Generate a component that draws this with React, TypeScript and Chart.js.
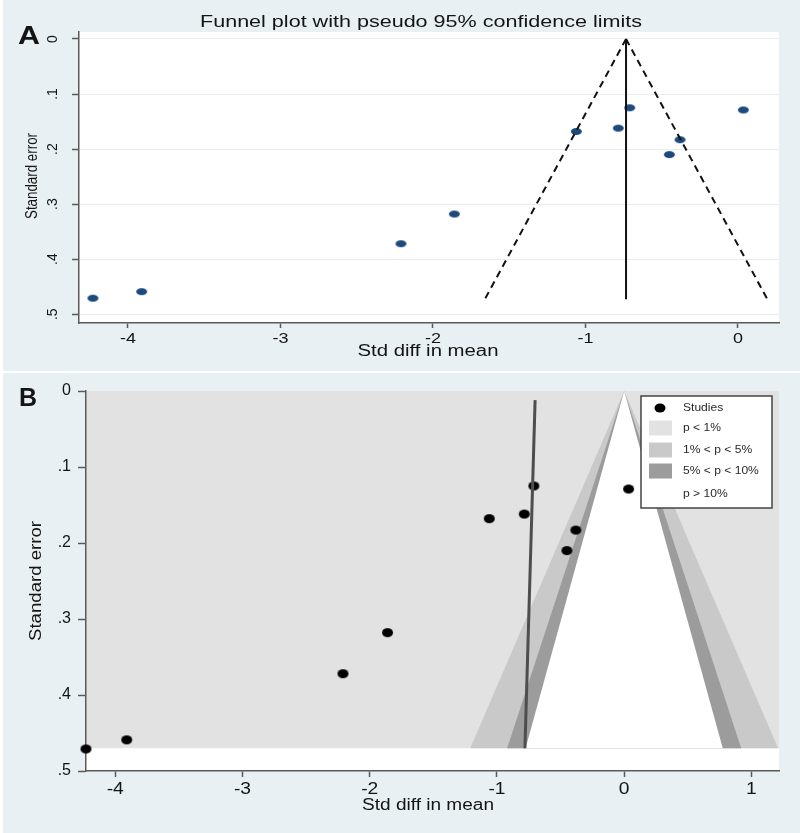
import React, { useEffect, useRef } from 'react';
import { Chart, registerables } from 'chart.js';
Chart.register(...registerables);

// ---- data ----
const studyEffect = [-4.23, -3.91, -2.21, -1.86, -1.06, -0.785, -0.71, -0.38, -0.45, 0.035];
const studySE = [0.471, 0.459, 0.372, 0.318, 0.168, 0.162, 0.125, 0.183, 0.21, 0.129];

const xTicksA = [-4, -3, -2, -1, 0];
const xTicksB = [-4, -3, -2, -1, 0, 1];
const yTicks = [0, 0.1, 0.2, 0.3, 0.4, 0.5];
const yTickLabels = ['0', '.1', '.2', '.3', '.4', '.5'];

// panel A: pseudo 95% limits
const pooledX = [-0.734, -0.734];
const limitSE = [0, 0.473];
const lowerLimitX = [-0.734, -1.66];
const upperLimitX = [-0.734, 0.193];

// panel B: contour-enhanced funnel
const trendX = [-0.7, -0.78];
const trendSE = [0.012, 0.47];
const contourSE = [0, 0.47];
const contour99HalfWidth = [0, 1.21];
const contour95HalfWidth = [0, 0.92];
const contour90HalfWidth = [0, 0.775];
const legendLabels = ['Studies', 'p < 1%', '1% < p < 5%', '5% < p < 10%', 'p > 10%'];

// ---- styles ----
const FONT = '"Liberation Sans", Arial, Helvetica, sans-serif';
const PANEL_BG = '#e9f0f3';
const TEXT = '#141414';
const AXIS = '#5a5a5a';
const C_P1 = '#e2e2e2';
const C_P5 = '#c9c9c9';
const C_P10 = '#9c9c9c';

type TxtOpts = { size: number; weight?: string; sx?: number; width?: number; align?: CanvasTextAlign; rotate?: boolean; color?: string };
function txt(ctx: CanvasRenderingContext2D, s: string, x: number, y: number, o: TxtOpts) {
  ctx.save();
  ctx.font = `${o.weight || 'normal'} ${o.size}px ${FONT}`;
  const m = ctx.measureText(s).width;
  const sx = o.width ? o.width / m : o.sx || 1;
  ctx.translate(x, y);
  if (o.rotate) ctx.rotate(-Math.PI / 2);
  ctx.scale(sx, 1);
  ctx.textBaseline = 'middle';
  ctx.textAlign = o.align || 'center';
  ctx.fillStyle = o.color || TEXT;
  ctx.fillText(s, 0, 0);
  ctx.restore();
}

function ellipseImg(w: number, h: number, color: string) {
  const c = document.createElement('canvas');
  c.width = w + 2;
  c.height = h + 2;
  const g = c.getContext('2d')!;
  g.fillStyle = color;
  g.beginPath();
  g.ellipse((w + 2) / 2, (h + 2) / 2, w / 2, h / 2, 0, 0, Math.PI * 2);
  g.fill();
  return c;
}

const pts = (xs: number[], ys: number[]) => xs.map((x, i) => ({ x, y: ys[i] }));

const panelAPlugin = {
  id: 'panelA',
  beforeDraw(chart: any) {
    const { ctx, chartArea: a } = chart;
    ctx.save();
    ctx.fillStyle = '#ffffff';
    ctx.fillRect(0, 0, chart.width, chart.height);
    ctx.fillStyle = PANEL_BG;
    ctx.fillRect(3, 0, chart.width - 3, chart.height - 1);
    ctx.fillStyle = '#ffffff';
    ctx.fillRect(a.left, a.top, a.right - a.left, a.bottom - a.top);
    ctx.restore();
  },
  afterDraw(chart: any) {
    const { ctx } = chart;
    const { x, y } = chart.scales;
    txt(ctx, 'A', 29, 37, { size: 26, weight: 'bold', width: 22 });
    txt(ctx, 'Funnel plot with pseudo 95% confidence limits', 421, 23, { size: 16, width: 442 });
    xTicksA.forEach((v) => txt(ctx, String(v), x.getPixelForValue(v), 339, { size: 15, sx: 1.2 }));
    yTicks.forEach((v, i) => txt(ctx, yTickLabels[i], 53, y.getPixelForValue(v), { size: 14, rotate: true }));
    txt(ctx, 'Standard error', 33, 176, { size: 16, width: 86, rotate: true });
    txt(ctx, 'Std diff in mean', 428, 352, { size: 16, width: 141 });
  },
};

const OYB = 372;
const panelBPlugin = {
  id: 'panelB',
  beforeDraw(chart: any) {
    const { ctx, chartArea: a } = chart;
    const { x, y } = chart.scales;
    ctx.save();
    ctx.fillStyle = '#ffffff';
    ctx.fillRect(0, 0, chart.width, chart.height);
    ctx.fillStyle = PANEL_BG;
    ctx.fillRect(3, 1, chart.width - 3, chart.height - 1);
    ctx.fillStyle = '#ffffff';
    ctx.fillRect(a.left, a.top, a.right - a.left, a.bottom - a.top);
    // p < 1% region
    const yTop = y.getPixelForValue(contourSE[0]);
    const yBot = y.getPixelForValue(contourSE[1]);
    ctx.fillStyle = C_P1;
    ctx.fillRect(a.left, yTop, a.right - a.left, yBot - yTop);
    const tri = (hw: number[], color: string) => {
      ctx.fillStyle = color;
      ctx.beginPath();
      ctx.moveTo(x.getPixelForValue(-hw[0]), y.getPixelForValue(contourSE[0]));
      ctx.lineTo(x.getPixelForValue(-hw[1]), y.getPixelForValue(contourSE[1]));
      ctx.lineTo(x.getPixelForValue(hw[1]), y.getPixelForValue(contourSE[1]));
      ctx.lineTo(x.getPixelForValue(hw[0]), y.getPixelForValue(contourSE[0]));
      ctx.closePath();
      ctx.fill();
    };
    tri(contour99HalfWidth, C_P5);
    tri(contour95HalfWidth, C_P10);
    tri(contour90HalfWidth, '#ffffff');
    ctx.restore();
  },
  afterDraw(chart: any) {
    const { ctx } = chart;
    const { x, y } = chart.scales;
    txt(ctx, 'B', 28, 399 - OYB, { size: 25, weight: 'bold', width: 18 });
    yTicks.forEach((v, i) => txt(ctx, yTickLabels[i], 71, y.getPixelForValue(v), { size: 16, align: 'right' }));
    xTicksB.forEach((v) => txt(ctx, String(v), x.getPixelForValue(v), 790 - OYB, { size: 16, sx: 1.2 }));
    txt(ctx, 'Standard error', 36, 581 - OYB, { size: 17, width: 120, rotate: true });
    txt(ctx, 'Std diff in mean', 428, 806 - OYB, { size: 16, width: 132 });

    // legend
    ctx.save();
    const bx = 641, by = 396 - OYB, bw = 131, bh = 112;
    ctx.fillStyle = '#ffffff';
    ctx.fillRect(bx, by, bw, bh);
    ctx.strokeStyle = '#444444';
    ctx.lineWidth = 1.5;
    ctx.strokeRect(bx, by, bw, bh);
    const rows = [408, 428, 450, 471, 494].map((v) => v - OYB);
    ctx.fillStyle = '#000000';
    ctx.beginPath();
    ctx.ellipse(660, rows[0], 5.5, 4.5, 0, 0, Math.PI * 2);
    ctx.fill();
    const sw = [C_P1, C_P5, C_P10];
    sw.forEach((c, i) => {
      ctx.fillStyle = c;
      ctx.fillRect(649, rows[i + 1] - 7.5, 23, 15);
    });
    ctx.restore();
    legendLabels.forEach((l, i) => txt(ctx, l, 683, rows[i], { size: 11.5, sx: 1.05, align: 'left', color: '#2a2a2a' }));
  },
};

function axisCommon(ticks: number[], tickLength: number, size: { w?: number; h?: number }, gridOn: boolean) {
  return {
    type: 'linear' as const,
    afterBuildTicks: (s: any) => {
      s.ticks = ticks.map((v) => ({ value: v }));
    },
    afterFit: (s: any) => {
      if (size.w !== undefined) s.width = size.w;
      if (size.h !== undefined) s.height = size.h;
    },
    ticks: { display: false },
    grid: {
      drawOnChartArea: gridOn,
      color: '#e6eef2',
      lineWidth: 1,
      drawTicks: true,
      tickLength,
      tickColor: AXIS,
      tickWidth: 1.5,
    },
    border: { display: true, color: AXIS, width: 1.5 },
  };
}

export default function App() {
  const refA = useRef<HTMLCanvasElement>(null);
  const refB = useRef<HTMLCanvasElement>(null);

  useEffect(() => {
    const dotA = ellipseImg(11, 7, '#1c4a7c');
    const dotB = ellipseImg(11, 9, '#000000');
    const studies = pts(studyEffect, studySE);

    const chartA = new Chart(refA.current!, {
      type: 'scatter',
      data: {
        datasets: [
          { data: pts(pooledX, limitSE), showLine: true, borderColor: '#111', borderWidth: 2, pointRadius: 0 },
          { data: pts(lowerLimitX, limitSE), showLine: true, borderColor: '#111', borderWidth: 2, borderDash: [7, 5], pointRadius: 0 },
          { data: pts(upperLimitX, limitSE), showLine: true, borderColor: '#111', borderWidth: 2, borderDash: [7, 5], pointRadius: 0 },
          { data: studies, pointStyle: dotA as any, pointRadius: 5, backgroundColor: '#1c4a7c', borderWidth: 0, clip: false as any },
        ],
      } as any,
      options: {
        animation: false,
        responsive: false,
        devicePixelRatio: 1,
        events: [],
        layout: { padding: { left: 0, top: 32, right: 21, bottom: 0 } },
        plugins: { legend: { display: false }, tooltip: { enabled: false } },
        scales: {
          x: { ...axisCommon(xTicksA, 5, { h: 49 }, false), min: -4.321, max: 0.269 },
          y: { ...axisCommon(yTicks, 7, { w: 79 }, true), min: -0.0127, max: 0.516, reverse: true },
        },
      } as any,
      plugins: [panelAPlugin],
    });

    const chartB = new Chart(refB.current!, {
      type: 'scatter',
      data: {
        datasets: [
          { data: pts(trendX, trendSE), showLine: true, borderColor: '#4e4e4e', borderWidth: 3, pointRadius: 0 },
          { data: studies, pointStyle: dotB as any, pointRadius: 5, backgroundColor: '#000', borderWidth: 0, clip: false as any },
        ],
      } as any,
      options: {
        animation: false,
        responsive: false,
        devicePixelRatio: 1,
        events: [],
        layout: { padding: { left: 0, top: 391 - OYB, right: 21, bottom: 0 } },
        plugins: { legend: { display: false }, tooltip: { enabled: false } },
        scales: {
          x: { ...axisCommon(xTicksB, 6, { h: 833 - 771 }, false), min: -4.23, max: 1.217 },
          y: { ...axisCommon(yTicks, 8, { w: 86 }, false), min: 0, max: 0.5, reverse: true },
        },
      } as any,
      plugins: [panelBPlugin],
    });

    return () => {
      chartA.destroy();
      chartB.destroy();
    };
  }, []);

  return (
    <div style={{ position: 'absolute', left: 0, top: 0, width: 800, height: 833, background: '#fff' }}>
      <canvas ref={refA} width={800} height={372} style={{ position: 'absolute', left: 0, top: 0, width: 800, height: 372 }} />
      <canvas ref={refB} width={800} height={461} style={{ position: 'absolute', left: 0, top: OYB, width: 800, height: 461 }} />
    </div>
  );
}
